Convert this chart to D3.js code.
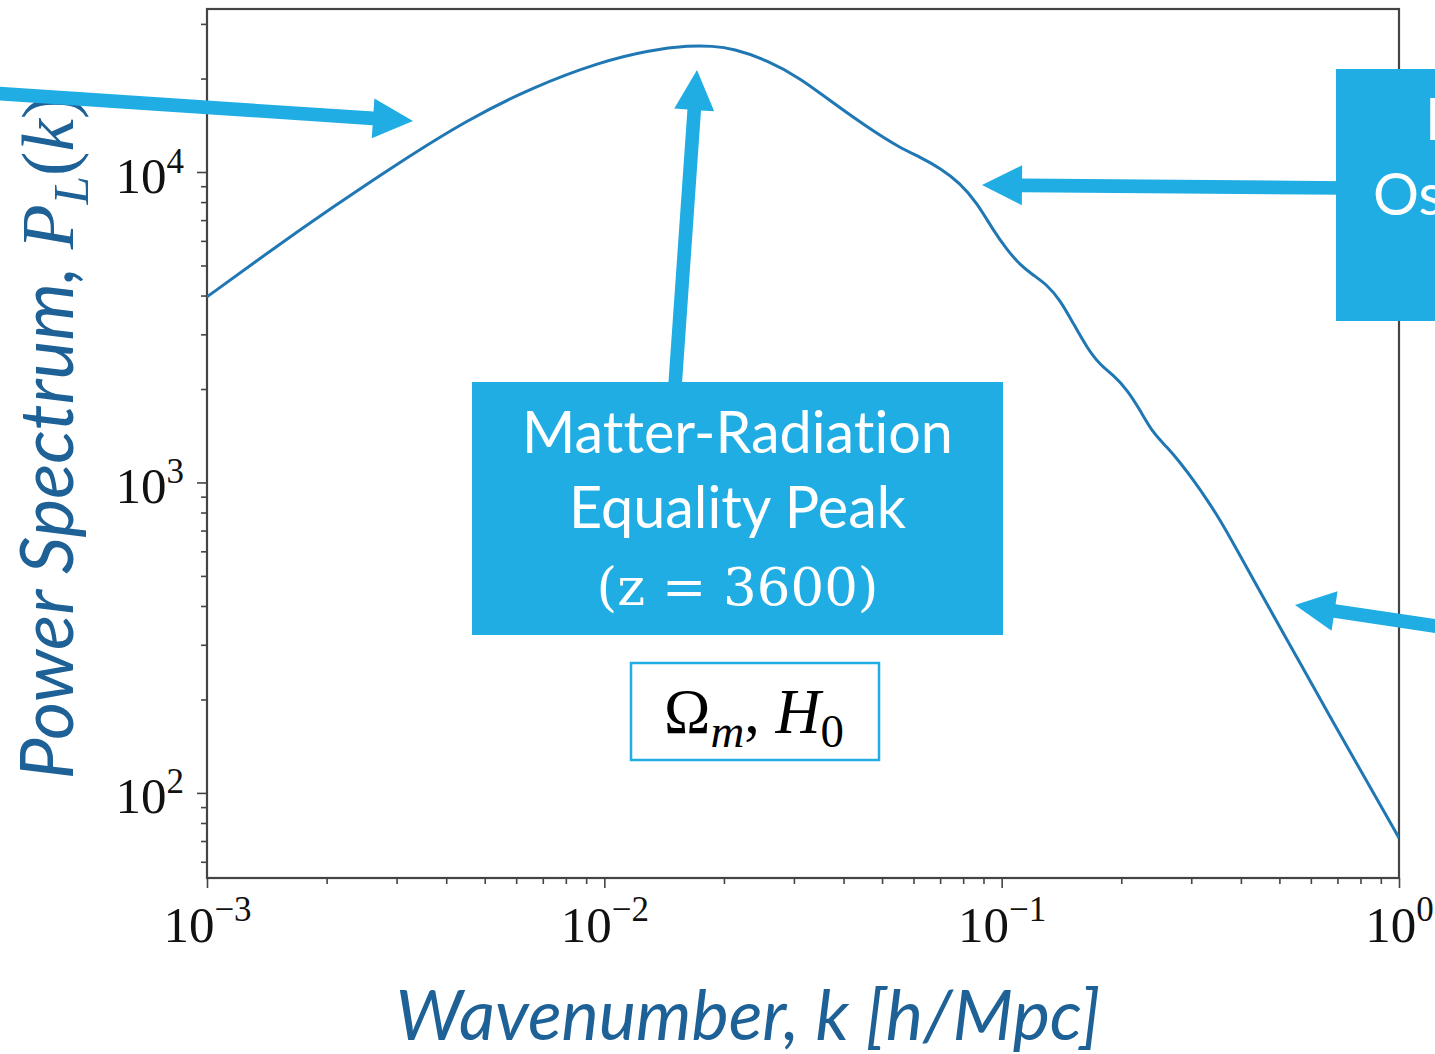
<!DOCTYPE html>
<html>
<head>
<meta charset="utf-8">
<script src="https://cdn.jsdelivr.net/npm/d3@7"></script>
<style>
body{margin:0;background:#fff;overflow:hidden}
svg{display:block}
text{font-variant-ligatures:none;font-feature-settings:"liga" 0,"clig" 0}
</style>
</head>
<body>
<svg id="chart"></svg>
<script>
// linear matter power spectrum
var kValues = [0.001, 0.001416, 0.002076, 0.00306, 0.004512, 0.006616, 0.009754, 0.01303, 0.01643, 0.01867,
    0.02108, 0.02567, 0.03109, 0.03764, 0.04583, 0.05549, 0.06232, 0.06998, 0.07857, 0.08672,
    0.09515, 0.1032, 0.1113, 0.1199, 0.1301, 0.1403, 0.1513, 0.1641, 0.1769, 0.1908,
    0.2068, 0.223, 0.2405, 0.2608, 0.2812, 0.3033, 0.3289, 0.3546, 0.3824, 0.4739,
    0.5639, 0.6825, 0.8264, 1.0];
var powerValues = [3960, 5480, 7720, 10770, 14710, 18780, 22620, 24710, 25550, 25450,
    24990, 22950, 20080, 16690, 13960, 11950, 11180, 10300, 9220, 7950,
    6500, 5610, 5020, 4660, 4330, 3870, 3260, 2710, 2390, 2220,
    1990, 1710, 1440, 1300, 1160, 1020, 879, 757, 639, 389,
    262, 169, 110, 71.6];

var xTickValues = [0.001, 0.01, 0.1, 1];
var xTickExps = ["\u22123", "\u22122", "\u22121", "0"];
var yTickValues = [100, 1000, 10000];
var yTickExps = ["2", "3", "4"];

var peakLines = ["Matter-Radiation", "Equality Peak", "(z = 3600)"];
var baoLines = ["Baryon", "Oscillations"];

var width = 1435, height = 1054;
var plotLeft = 207, plotRight = 1399, plotTop = 9, plotBottom = 878;
var blue = "#1fade3", labelBlue = "#1e6196", axisGrey = "#444";

var svg = d3.select("#chart").attr("width", width).attr("height", height);

var xScale = d3.scaleLog().domain([0.001, 1]).range([plotLeft, plotRight]);
var yScale = d3.scaleLog().domain([53.2, 33500]).range([plotBottom, plotTop]);

var data = kValues.map(function(k, i){ return {k: k, p: powerValues[i]}; });

// minor ticks from the scale itself
var xMinor = xScale.ticks().filter(function(d){ return xTickValues.indexOf(d) < 0; });
var yMinor = yScale.ticks().filter(function(d){ return yTickValues.indexOf(d) < 0; });

function styleAxis(g){
    g.select(".domain").remove();
    g.selectAll(".tick line").attr("stroke", axisGrey).attr("stroke-width", 1.6);
}

svg.append("g").attr("transform", "translate(0," + plotBottom + ")")
    .call(d3.axisBottom(xScale).tickValues(xMinor).tickSize(6).tickFormat(""))
    .call(styleAxis);
svg.append("g").attr("transform", "translate(" + plotLeft + ",0)")
    .call(d3.axisLeft(yScale).tickValues(yMinor).tickSize(6).tickFormat(""))
    .call(styleAxis);

var xMajor = svg.append("g").attr("transform", "translate(0," + plotBottom + ")")
    .call(d3.axisBottom(xScale).tickValues(xTickValues).tickSize(10).tickFormat(function(){ return ""; }))
    .call(styleAxis);
var yMajor = svg.append("g").attr("transform", "translate(" + plotLeft + ",0)")
    .call(d3.axisLeft(yScale).tickValues(yTickValues).tickSize(10).tickFormat(function(){ return ""; }))
    .call(styleAxis);

// power-of-ten labels with superscripts
xMajor.selectAll(".tick text")
    .attr("y", 64).attr("dy", null)
    .attr("font-family", "Liberation Serif").attr("font-size", 51).attr("fill", "#111")
    .attr("text-anchor", "middle")
    .each(function(d, i){
        var t = d3.select(this);
        t.append("tspan").text("10");
        t.append("tspan").attr("dy", -21).attr("font-size", 35).text(xTickExps[i]);
    });
yMajor.selectAll(".tick text")
    .attr("x", -23).attr("y", 20).attr("dy", null)
    .attr("font-family", "Liberation Serif").attr("font-size", 51).attr("fill", "#111")
    .attr("text-anchor", "end")
    .each(function(d, i){
        var t = d3.select(this);
        t.append("tspan").text("10");
        t.append("tspan").attr("dy", -20).attr("font-size", 35).text(yTickExps[i]);
    });

// frame
svg.append("rect")
    .attr("x", plotLeft).attr("y", plotTop)
    .attr("width", plotRight - plotLeft).attr("height", plotBottom - plotTop)
    .attr("fill", "none").attr("stroke", axisGrey).attr("stroke-width", 2.2);

svg.append("clipPath").attr("id", "plotclip")
    .append("rect").attr("x", plotLeft).attr("y", plotTop)
    .attr("width", plotRight - plotLeft).attr("height", plotBottom - plotTop);

var linegen = d3.line()
    .x(function(d){ return xScale(d.k); })
    .y(function(d){ return yScale(d.p); })
    .curve(d3.curveBasis);

svg.append("path")
    .datum(data)
    .attr("clip-path", "url(#plotclip)")
    .attr("d", linegen)
    .attr("fill", "none")
    .attr("stroke", "#1f77b4")
    .attr("stroke-width", 3);

// fit a text element to a target width by scaling its font size
function fit(sel, target){
    var node = sel.node();
    var fs = parseFloat(sel.attr("font-size"));
    var len = node.getComputedTextLength();
    sel.attr("font-size", fs * target / len);
    return fs * target / len;
}

// axis titles
var xt = svg.append("text")
    .attr("x", 748).attr("y", 1040)
    .attr("text-anchor", "middle")
    .attr("font-family", "Lato").attr("font-style", "italic")
    .attr("font-size", 60).attr("fill", labelBlue)
    .text("Wavenumber, k [h/Mpc]");
fit(xt, 705);

var yt = svg.append("text")
    .attr("transform", "translate(73,437) rotate(-90)")
    .attr("text-anchor", "middle")
    .attr("font-family", "Lato").attr("font-size", 60).attr("fill", labelBlue);
yt.append("tspan").attr("font-style", "italic").text("Power Spectrum, ");
yt.append("tspan").attr("font-family", "Liberation Serif").attr("font-style", "italic").text("P");
yt.append("tspan").attr("font-family", "Liberation Serif").attr("font-style", "italic")
    .attr("font-size", "0.7em").attr("dy", "0.3em").text("L");
yt.append("tspan").attr("font-family", "Liberation Serif").attr("dy", "-0.21em").text("(");
yt.append("tspan").attr("font-family", "Liberation Serif").attr("font-style", "italic").text("k");
yt.append("tspan").attr("font-family", "Liberation Serif").text(")");
fit(yt, 685);

// arrows: tail -> tip
function arrow(x1, y1, x2, y2){
    var dx = x2 - x1, dy = y2 - y1, L = Math.hypot(dx, dy);
    var ux = dx / L, uy = dy / L, px = -uy, py = ux;
    var hl = 40, hw = 20, sw = 6.8;
    var bx = x2 - ux * hl, by = y2 - uy * hl;
    var pts = [
        [x1 + px * sw, y1 + py * sw], [bx + px * sw, by + py * sw], [bx + px * hw, by + py * hw],
        [x2, y2],
        [bx - px * hw, by - py * hw], [bx - px * sw, by - py * sw], [x1 - px * sw, y1 - py * sw]
    ];
    svg.append("polygon").attr("points", pts.map(function(p){ return p.join(","); }).join(" "))
        .attr("fill", blue);
}

arrow(-10, 93, 413, 121);
arrow(675, 386, 697, 70);
arrow(1345, 188, 982, 185);
arrow(1455, 629, 1295, 605);

// equality peak box
svg.append("rect").attr("x", 472).attr("y", 382).attr("width", 531).attr("height", 253).attr("fill", blue);
var l1 = svg.append("text").attr("x", 737.5).attr("y", 453).attr("text-anchor", "middle")
    .attr("font-family", "Lato").attr("font-size", 50).attr("fill", "#fff").text(peakLines[0]);
var boxSize = fit(l1, 431);
svg.append("text").attr("x", 737.5).attr("y", 528).attr("text-anchor", "middle")
    .attr("font-family", "Lato").attr("font-size", boxSize).attr("fill", "#fff").text(peakLines[1]);
var l3 = svg.append("text").attr("x", 737.5).attr("y", 605).attr("text-anchor", "middle")
    .attr("font-family", "DejaVu Serif").attr("font-size", 48).attr("fill", "#fff").text(peakLines[2]);
fit(l3, 282);

// parameter box
svg.append("rect").attr("x", 631).attr("y", 663).attr("width", 248).attr("height", 97)
    .attr("fill", "#fff").attr("stroke", blue).attr("stroke-width", 2.5);
var om = svg.append("text").attr("x", 754).attr("y", 733).attr("text-anchor", "middle")
    .attr("font-family", "Liberation Serif").attr("font-size", 52).attr("fill", "#000");
om.append("tspan").text("\u03a9");
om.append("tspan").attr("font-style", "italic").attr("font-size", "0.75em").attr("dy", "0.3em").text("m");
om.append("tspan").attr("dy", "-0.225em").text(", ");
om.append("tspan").attr("font-style", "italic").text("H");
om.append("tspan").attr("font-size", "0.75em").attr("dy", "0.3em").text("0");
fit(om, 180);

// BAO box, clipped by the page edge
svg.append("rect").attr("x", 1336).attr("y", 69).attr("width", 400).attr("height", 252).attr("fill", blue);
svg.append("text").attr("x", 1425).attr("y", 140)
    .attr("font-family", "Lato").attr("font-size", boxSize).attr("fill", "#fff").text(baoLines[0]);
svg.append("text").attr("x", 1373).attr("y", 215)
    .attr("font-family", "Lato").attr("font-size", boxSize).attr("fill", "#fff").text(baoLines[1]);
</script>
</body>
</html>
